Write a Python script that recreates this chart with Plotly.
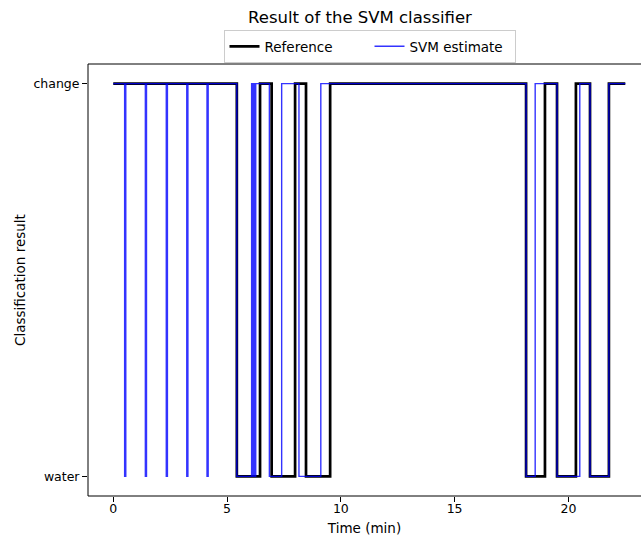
import plotly.graph_objects as go

# Reference labelling: time (min) at which each state starts
ref_times = [0, 5.43, 6.45, 6.96, 7.99, 8.47, 9.53, 18.14, 18.97, 19.50, 20.33, 20.95, 21.78, 22.50]
ref_states = ["change", "water", "change", "water", "change", "water", "change",
              "water", "change", "water", "change", "water", "change", "change"]

# SVM output: time (min) at which each predicted state starts
svm_times = [0, 0.50, 0.55, 1.41, 1.46, 2.33, 2.38, 3.23, 3.28, 4.12, 4.17, 5.43,
             6.08, 6.13, 6.17, 6.21, 6.26, 6.86, 7.40, 8.16, 9.12,
             18.14, 18.54, 19.50, 20.50, 20.95, 21.78, 22.50]
svm_states = ["change", "water", "change", "water", "change", "water", "change",
              "water", "change", "water", "change", "water",
              "change", "water", "change", "water", "change", "water", "change",
              "water", "change", "water", "change", "water", "change", "water",
              "change", "change"]

state_order = ["water", "change"]
x_ticks = [0, 5, 10, 15, 20]

FONT = "DejaVu Sans"

fig = go.Figure()
fig.add_trace(go.Scatter(
    x=ref_times, y=ref_states, mode="lines", line_shape="hv",
    name="Reference", line=dict(color="black", width=2.7),
))
fig.add_trace(go.Scatter(
    x=svm_times, y=svm_states, mode="lines", line_shape="hv",
    name="SVM estimate", line=dict(color="rgba(0,0,255,0.8)", width=1.4),
))

# axes frame: left, bottom and top spines
for x0, y0, x1, y1 in [(0, 0, 0, 1), (0, 0, 1, 0), (0, 1, 1, 1)]:
    fig.add_shape(type="line", xref="paper", yref="paper", x0=x0, y0=y0, x1=x1, y1=y1,
                  line=dict(color="black", width=1))

fig.update_layout(
    width=641, height=536,
    margin=dict(l=88, r=0, t=64, b=40),
    plot_bgcolor="white", paper_bgcolor="white",
    font=dict(family=FONT, size=13, color="black"),
    title=dict(text="Result of the SVM classifier", x=(360 - 88) / 553, xref="paper",
               xanchor="center", y=1 - 17 / 536, yanchor="middle",
               font=dict(family=FONT, size=16.5, color="black")),
    legend=dict(orientation="h", x=(369.5 - 88) / 553, xanchor="center",
                y=(496 - 30) / 432, yanchor="top",
                bordercolor="#cccccc", borderwidth=1, bgcolor="white",
                entrywidth=100, entrywidthmode="pixels", itemwidth=30,
                font=dict(family=FONT, size=13.5)),
    xaxis=dict(range=[-1.11, 23.19], tickvals=x_ticks, ticks="outside", ticklen=5,
               tickcolor="black", showgrid=False, zeroline=False, showline=False,
               ticklabelstandoff=-4,
               title=dict(text="Time (min)", font=dict(family=FONT, size=13.5), standoff=10),
               tickfont=dict(family=FONT, size=12.5)),
    yaxis=dict(type="category", categoryorder="array", categoryarray=state_order,
               range=[-0.05, 1.05], ticks="outside", ticklen=5, tickcolor="black",
               showgrid=False, zeroline=False, showline=False,
               title=dict(text="Classification result", font=dict(family=FONT, size=13.5), standoff=4),
               tickfont=dict(family=FONT, size=12.5)),
)

fig.write_html("out.html")
